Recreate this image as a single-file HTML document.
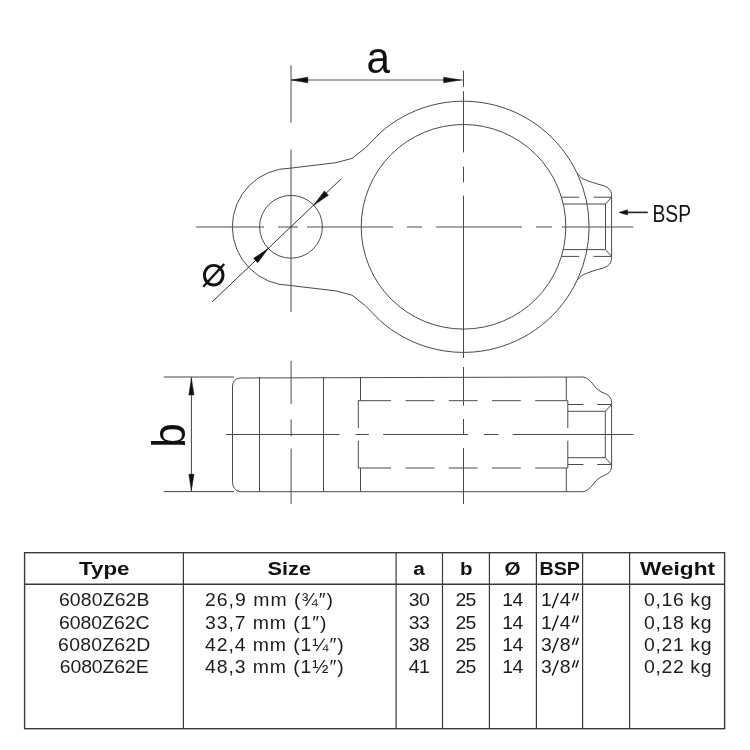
<!DOCTYPE html>
<html><head><meta charset="utf-8"><style>
html,body{margin:0;padding:0;background:#fff;width:750px;height:750px;overflow:hidden}
svg{display:block;filter:grayscale(1)}
</style></head><body>
<svg width="750" height="750" viewBox="0 0 750 750">
<rect width="750" height="750" fill="#fff"/>
<line x1="291" y1="65.3" x2="291" y2="122.8" stroke="#4a4a4a" stroke-width="1.0"/>
<line x1="291" y1="149.5" x2="291" y2="312" stroke="#4a4a4a" stroke-width="1.0"/>
<line x1="463.5" y1="70.8" x2="463.5" y2="86.9" stroke="#4a4a4a" stroke-width="1.0"/>
<line x1="463.5" y1="91.2" x2="463.5" y2="152.4" stroke="#4a4a4a" stroke-width="1.0"/>
<line x1="463.5" y1="166.8" x2="463.5" y2="182.4" stroke="#4a4a4a" stroke-width="1.0"/>
<line x1="463.5" y1="195.6" x2="463.5" y2="358" stroke="#4a4a4a" stroke-width="1.0"/>
<line x1="463.5" y1="367" x2="463.5" y2="405.6" stroke="#4a4a4a" stroke-width="1.0"/>
<line x1="463.5" y1="419" x2="463.5" y2="434.4" stroke="#4a4a4a" stroke-width="1.0"/>
<line x1="463.5" y1="448" x2="463.5" y2="504" stroke="#4a4a4a" stroke-width="1.0"/>
<line x1="196" y1="227.0" x2="264" y2="227.0" stroke="#4a4a4a" stroke-width="1.0"/>
<line x1="278" y1="227.0" x2="298" y2="227.0" stroke="#4a4a4a" stroke-width="1.0"/>
<line x1="307" y1="227.0" x2="393" y2="227.0" stroke="#4a4a4a" stroke-width="1.0"/>
<line x1="407" y1="227.0" x2="422" y2="227.0" stroke="#4a4a4a" stroke-width="1.0"/>
<line x1="436" y1="227.0" x2="522" y2="227.0" stroke="#4a4a4a" stroke-width="1.0"/>
<line x1="536" y1="227.0" x2="552" y2="227.0" stroke="#4a4a4a" stroke-width="1.0"/>
<line x1="562" y1="227.0" x2="633.3" y2="227.0" stroke="#4a4a4a" stroke-width="1.0"/>
<line x1="291" y1="80" x2="463" y2="80" stroke="#555" stroke-width="1.0"/>
<polygon points="291.30,80.00 307.80,82.80 307.80,77.20" fill="#111" stroke="#111" stroke-width="0.5" stroke-linejoin="round"/>
<polygon points="460.60,80.00 443.60,77.20 443.60,82.80" fill="#111" stroke="#111" stroke-width="0.5" stroke-linejoin="round"/>
<circle cx="463.5" cy="226.8" r="102.3" fill="none" stroke="#4a4a4a" stroke-width="1.0"/>
<circle cx="291.0" cy="226.8" r="31.4" fill="none" stroke="#4a4a4a" stroke-width="1.0"/>
<path d="M 291 285.50 A 58.7 58.7 0 0 1 291 168.10 L 336 162.70 L 352 158.40 L 365.3 148.00 L 380 132.98 A 125.6 125.6 0 0 1 577.2 173.44 C 579 175 580 177 583 178.8 C 588 181.3 596 183.5 603.2 185.6 C 607 186.8 609.5 188.5 610.8 191.5 C 611.6 193.5 611.6 195.5 611.6 197.2 L 611.6 256.40 C 611.6 258.10 611.6 260.10 610.8 262.10 C 609.5 265.10 607 266.80 603.2 268.00 C 596 270.10 588 272.30 583 274.80 C 580 276.60 579 278.60 577.2 280.16 A 125.6 125.6 0 0 1 380 320.62 L 365.3 305.60 L 352 295.20 L 336 290.90 L 291 285.60 " fill="none" stroke="#4a4a4a" stroke-width="1.0" stroke-linejoin="round"/>
<path d="M 577.2 173.44 A 125.6 125.6 0 0 1 577.2 280.16" fill="none" stroke="#4a4a4a" stroke-width="1.0" stroke-linejoin="round"/>
<line x1="561.3" y1="197.2" x2="579.2" y2="197.2" stroke="#4a4a4a" stroke-width="1.0"/>
<line x1="593.6" y1="197.2" x2="611.6" y2="197.2" stroke="#4a4a4a" stroke-width="1.0"/>
<line x1="561.3" y1="256.4" x2="579.2" y2="256.4" stroke="#4a4a4a" stroke-width="1.0"/>
<line x1="593.6" y1="256.4" x2="611.6" y2="256.4" stroke="#4a4a4a" stroke-width="1.0"/>
<path d="M 563 204 L 605.5 204 L 611.6 197.2 M 605.5 204 L 605.5 249.6 L 611.6 256.4 M 563 249.6 L 605.5 249.6" fill="none" stroke="#4a4a4a" stroke-width="1.0" stroke-linejoin="round"/>
<line x1="212" y1="302" x2="341.2" y2="178.8" stroke="#333" stroke-width="1.0"/>
<polygon points="313.72,205.13 328.46,195.23 324.32,190.88" fill="#111" stroke="#111" stroke-width="0.5" stroke-linejoin="round"/>
<polygon points="268.28,248.47 253.54,258.37 257.68,262.72" fill="#111" stroke="#111" stroke-width="0.5" stroke-linejoin="round"/>
<ellipse cx="213.7" cy="275.2" rx="9.3" ry="9.8" fill="none" stroke="#111" stroke-width="2.9"/>
<line x1="203.2" y1="286.8" x2="224.2" y2="264" stroke="#111" stroke-width="2.3"/>
<text x="366.5" y="73" font-family="&quot;Liberation Sans&quot;, sans-serif" font-size="45" font-weight="normal" text-anchor="start" textLength="23.5" lengthAdjust="spacingAndGlyphs" fill="#111">a</text>
<line x1="626" y1="212.4" x2="647.8" y2="212.4" stroke="#222" stroke-width="1.6"/>
<polygon points="619.00,212.40 627.50,215.00 627.50,209.80" fill="#111" stroke="#111" stroke-width="0.5" stroke-linejoin="round"/>
<text x="652.5" y="221.5" font-family="&quot;Liberation Sans&quot;, sans-serif" font-size="23" font-weight="normal" text-anchor="start" textLength="38.5" lengthAdjust="spacingAndGlyphs" fill="#111">BSP</text>
<line x1="163.8" y1="377.0" x2="234" y2="377.0" stroke="#444" stroke-width="1.0"/>
<line x1="163.8" y1="491.6" x2="234" y2="491.6" stroke="#444" stroke-width="1.0"/>
<line x1="191.4" y1="377.0" x2="191.4" y2="491.7" stroke="#444" stroke-width="1.0"/>
<polygon points="191.40,378.40 188.80,394.90 194.00,394.90" fill="#111" stroke="#111" stroke-width="0.5" stroke-linejoin="round"/>
<polygon points="191.40,490.30 194.00,474.30 188.80,474.30" fill="#111" stroke="#111" stroke-width="0.5" stroke-linejoin="round"/>
<g transform="translate(184.5,435.5) rotate(-90)"><text x="0" y="0" font-family="&quot;Liberation Sans&quot;, sans-serif" font-size="46" text-anchor="middle" fill="#111" textLength="24.5" lengthAdjust="spacingAndGlyphs">b</text></g>
<path d="M 583.7 377.0 C 587 378.0 590 380.5 592.5 383.5 C 595 387.0 597 389.5 601 391.8 C 605 393.5 609 395.0 610.5 398.0 C 611.6 400.0 611.6 402.0 611.6 404.5 L 611.6 464.2 C 611.6 466.7 611.6 468.7 610.5 470.7 C 609 473.7 605 475.2 601 476.9 C 597 479.2 595 481.7 592.5 485.2 C 590 488.2 587 490.7 583.7 491.7 L 240.1 491.7 Q 232.5 490.2 232.5 481.7 L 232.5 387.0 Q 232.5 378.5 240.1 378.0 Z" fill="none" stroke="#4a4a4a" stroke-width="1.0" stroke-linejoin="round"/>
<line x1="259.5" y1="377.0" x2="259.5" y2="491.7" stroke="#4a4a4a" stroke-width="1.0"/>
<line x1="323.5" y1="377.0" x2="323.5" y2="491.7" stroke="#4a4a4a" stroke-width="1.0"/>
<line x1="360.5" y1="377.0" x2="360.5" y2="400.7" stroke="#4a4a4a" stroke-width="1.0"/>
<line x1="360.5" y1="468" x2="360.5" y2="491.7" stroke="#4a4a4a" stroke-width="1.0"/>
<line x1="566.3" y1="377.0" x2="566.3" y2="400.7" stroke="#4a4a4a" stroke-width="1.0"/>
<line x1="566.3" y1="468" x2="566.3" y2="491.7" stroke="#4a4a4a" stroke-width="1.0"/>
<line x1="358" y1="400.7" x2="391" y2="400.7" stroke="#4a4a4a" stroke-width="1.0"/>
<line x1="405.6" y1="400.7" x2="434.4" y2="400.7" stroke="#4a4a4a" stroke-width="1.0"/>
<line x1="448.8" y1="400.7" x2="477.6" y2="400.7" stroke="#4a4a4a" stroke-width="1.0"/>
<line x1="492" y1="400.7" x2="520.8" y2="400.7" stroke="#4a4a4a" stroke-width="1.0"/>
<line x1="535.2" y1="400.7" x2="567.8" y2="400.7" stroke="#4a4a4a" stroke-width="1.0"/>
<line x1="358" y1="468.0" x2="391" y2="468.0" stroke="#4a4a4a" stroke-width="1.0"/>
<line x1="405.6" y1="468.0" x2="434.4" y2="468.0" stroke="#4a4a4a" stroke-width="1.0"/>
<line x1="448.8" y1="468.0" x2="477.6" y2="468.0" stroke="#4a4a4a" stroke-width="1.0"/>
<line x1="492" y1="468.0" x2="520.8" y2="468.0" stroke="#4a4a4a" stroke-width="1.0"/>
<line x1="535.2" y1="468.0" x2="567.8" y2="468.0" stroke="#4a4a4a" stroke-width="1.0"/>
<line x1="358.3" y1="400.7" x2="358.3" y2="428" stroke="#4a4a4a" stroke-width="1.0"/>
<line x1="358.3" y1="440.8" x2="358.3" y2="468" stroke="#4a4a4a" stroke-width="1.0"/>
<line x1="567.8" y1="400.7" x2="567.8" y2="428" stroke="#4a4a4a" stroke-width="1.0"/>
<line x1="567.8" y1="440.8" x2="567.8" y2="468" stroke="#4a4a4a" stroke-width="1.0"/>
<line x1="568" y1="404.5" x2="583.4" y2="404.5" stroke="#4a4a4a" stroke-width="1.0"/>
<line x1="597.2" y1="404.5" x2="611.6" y2="404.5" stroke="#4a4a4a" stroke-width="1.0"/>
<line x1="568" y1="464.5" x2="583.4" y2="464.5" stroke="#4a4a4a" stroke-width="1.0"/>
<line x1="597.2" y1="464.5" x2="611.6" y2="464.5" stroke="#4a4a4a" stroke-width="1.0"/>
<path d="M 568 411.3 L 605.3 411.3 L 611.6 404.5 M 605.3 411.3 L 605.3 457.7 L 611.6 464.5 M 568 457.7 L 605.3 457.7" fill="none" stroke="#4a4a4a" stroke-width="1.0" stroke-linejoin="round"/>
<line x1="226" y1="434.5" x2="339.6" y2="434.5" stroke="#4a4a4a" stroke-width="1.0"/>
<line x1="355.5" y1="434.5" x2="368.8" y2="434.5" stroke="#4a4a4a" stroke-width="1.0"/>
<line x1="383.2" y1="434.5" x2="468" y2="434.5" stroke="#4a4a4a" stroke-width="1.0"/>
<line x1="484" y1="434.5" x2="498.4" y2="434.5" stroke="#4a4a4a" stroke-width="1.0"/>
<line x1="512.8" y1="434.5" x2="633.3" y2="434.5" stroke="#4a4a4a" stroke-width="1.0"/>
<line x1="291.1" y1="361" x2="291.1" y2="404" stroke="#4a4a4a" stroke-width="1.0"/>
<line x1="291.1" y1="419.4" x2="291.1" y2="436.3" stroke="#4a4a4a" stroke-width="1.0"/>
<line x1="291.1" y1="448.6" x2="291.1" y2="503.8" stroke="#4a4a4a" stroke-width="1.0"/>
<rect x="24.6" y="552.7" width="700" height="176" fill="none" stroke="#3a3a3a" stroke-width="1.4"/>
<line x1="24.6" y1="584.2" x2="724.6" y2="584.2" stroke="#3a3a3a" stroke-width="1.4"/>
<line x1="183.4" y1="552.7" x2="183.4" y2="728.7" stroke="#3a3a3a" stroke-width="1.2"/>
<line x1="396.1" y1="552.7" x2="396.1" y2="728.7" stroke="#3a3a3a" stroke-width="1.2"/>
<line x1="442.5" y1="552.7" x2="442.5" y2="728.7" stroke="#3a3a3a" stroke-width="1.2"/>
<line x1="489.4" y1="552.7" x2="489.4" y2="728.7" stroke="#3a3a3a" stroke-width="1.2"/>
<line x1="536.4" y1="552.7" x2="536.4" y2="728.7" stroke="#3a3a3a" stroke-width="1.2"/>
<line x1="582.6" y1="552.7" x2="582.6" y2="728.7" stroke="#3a3a3a" stroke-width="1.2"/>
<line x1="629.6" y1="552.7" x2="629.6" y2="728.7" stroke="#3a3a3a" stroke-width="1.2"/>
<text x="79" y="574.5" font-family="&quot;Liberation Sans&quot;, sans-serif" font-size="18.8" font-weight="bold" text-anchor="start" textLength="50.5" lengthAdjust="spacingAndGlyphs" fill="#111">Type</text>
<text x="267.5" y="574.5" font-family="&quot;Liberation Sans&quot;, sans-serif" font-size="18.8" font-weight="bold" text-anchor="start" textLength="43.5" lengthAdjust="spacingAndGlyphs" fill="#111">Size</text>
<text x="413.2" y="574.5" font-family="&quot;Liberation Sans&quot;, sans-serif" font-size="18.8" font-weight="bold" text-anchor="start" textLength="11.5" lengthAdjust="spacingAndGlyphs" fill="#111">a</text>
<text x="460" y="574.5" font-family="&quot;Liberation Sans&quot;, sans-serif" font-size="18.8" font-weight="bold" text-anchor="start" textLength="12.5" lengthAdjust="spacingAndGlyphs" fill="#111">b</text>
<text x="504.5" y="574.5" font-family="&quot;Liberation Sans&quot;, sans-serif" font-size="18.8" font-weight="bold" text-anchor="start" textLength="16" lengthAdjust="spacingAndGlyphs" fill="#111">Ø</text>
<text x="539.5" y="574.5" font-family="&quot;Liberation Sans&quot;, sans-serif" font-size="18.8" font-weight="bold" text-anchor="start" textLength="40.5" lengthAdjust="spacingAndGlyphs" fill="#111">BSP</text>
<text x="640" y="574.5" font-family="&quot;Liberation Sans&quot;, sans-serif" font-size="18.8" font-weight="bold" text-anchor="start" textLength="75" lengthAdjust="spacingAndGlyphs" fill="#111">Weight</text>
<text transform="translate(104.2,606.1) scale(1.08,1)" x="0" y="0" font-family="&quot;Liberation Sans&quot;, sans-serif" font-size="18" font-weight="normal" text-anchor="middle" textLength="83.89" lengthAdjust="spacing" fill="#1c1c1c">6080Z62B</text>
<text transform="translate(205,606.1) scale(1.08,1)" x="0" y="0" font-family="&quot;Liberation Sans&quot;, sans-serif" font-size="18" font-weight="normal" text-anchor="start" textLength="118.52" lengthAdjust="spacing" fill="#1c1c1c">26,9 mm (¾″)</text>
<text transform="translate(419.3,606.1) scale(1.08,1)" x="0" y="0" font-family="&quot;Liberation Sans&quot;, sans-serif" font-size="18" font-weight="normal" text-anchor="middle" textLength="19.44" lengthAdjust="spacing" fill="#1c1c1c">30</text>
<text transform="translate(465.9,606.1) scale(1.08,1)" x="0" y="0" font-family="&quot;Liberation Sans&quot;, sans-serif" font-size="18" font-weight="normal" text-anchor="middle" textLength="19.44" lengthAdjust="spacing" fill="#1c1c1c">25</text>
<text transform="translate(512.8,606.1) scale(1.08,1)" x="0" y="0" font-family="&quot;Liberation Sans&quot;, sans-serif" font-size="18" font-weight="normal" text-anchor="middle" textLength="19.44" lengthAdjust="spacing" fill="#1c1c1c">14</text>
<text transform="translate(546.3,606.1) scale(1.08,1)" x="0" y="0" font-family="&quot;Liberation Sans&quot;, sans-serif" font-size="18" font-weight="normal" text-anchor="middle" fill="#1c1c1c">1</text>
<text transform="translate(565.1,606.1) scale(1.08,1)" x="0" y="0" font-family="&quot;Liberation Sans&quot;, sans-serif" font-size="18" font-weight="normal" text-anchor="middle" fill="#1c1c1c">4</text>
<line x1="552.3" y1="608.3" x2="558.3" y2="593.1" stroke="#111" stroke-width="1.45"/>
<line x1="572.4" y1="600.4" x2="574.9" y2="593.1" stroke="#111" stroke-width="1.4"/>
<line x1="575.9" y1="600.4" x2="578.4" y2="593.1" stroke="#111" stroke-width="1.4"/>
<text transform="translate(644,606.1) scale(1.08,1)" x="0" y="0" font-family="&quot;Liberation Sans&quot;, sans-serif" font-size="18" font-weight="normal" text-anchor="start" textLength="62.50" lengthAdjust="spacing" fill="#1c1c1c">0,16 kg</text>
<text transform="translate(104.2,628.5) scale(1.08,1)" x="0" y="0" font-family="&quot;Liberation Sans&quot;, sans-serif" font-size="18" font-weight="normal" text-anchor="middle" textLength="83.89" lengthAdjust="spacing" fill="#1c1c1c">6080Z62C</text>
<text transform="translate(205,628.5) scale(1.08,1)" x="0" y="0" font-family="&quot;Liberation Sans&quot;, sans-serif" font-size="18" font-weight="normal" text-anchor="start" textLength="112.50" lengthAdjust="spacing" fill="#1c1c1c">33,7 mm (1″)</text>
<text transform="translate(419.3,628.5) scale(1.08,1)" x="0" y="0" font-family="&quot;Liberation Sans&quot;, sans-serif" font-size="18" font-weight="normal" text-anchor="middle" textLength="19.44" lengthAdjust="spacing" fill="#1c1c1c">33</text>
<text transform="translate(465.9,628.5) scale(1.08,1)" x="0" y="0" font-family="&quot;Liberation Sans&quot;, sans-serif" font-size="18" font-weight="normal" text-anchor="middle" textLength="19.44" lengthAdjust="spacing" fill="#1c1c1c">25</text>
<text transform="translate(512.8,628.5) scale(1.08,1)" x="0" y="0" font-family="&quot;Liberation Sans&quot;, sans-serif" font-size="18" font-weight="normal" text-anchor="middle" textLength="19.44" lengthAdjust="spacing" fill="#1c1c1c">14</text>
<text transform="translate(546.3,628.5) scale(1.08,1)" x="0" y="0" font-family="&quot;Liberation Sans&quot;, sans-serif" font-size="18" font-weight="normal" text-anchor="middle" fill="#1c1c1c">1</text>
<text transform="translate(565.1,628.5) scale(1.08,1)" x="0" y="0" font-family="&quot;Liberation Sans&quot;, sans-serif" font-size="18" font-weight="normal" text-anchor="middle" fill="#1c1c1c">4</text>
<line x1="552.3" y1="630.7" x2="558.3" y2="615.5" stroke="#111" stroke-width="1.45"/>
<line x1="572.4" y1="622.8" x2="574.9" y2="615.5" stroke="#111" stroke-width="1.4"/>
<line x1="575.9" y1="622.8" x2="578.4" y2="615.5" stroke="#111" stroke-width="1.4"/>
<text transform="translate(644,628.5) scale(1.08,1)" x="0" y="0" font-family="&quot;Liberation Sans&quot;, sans-serif" font-size="18" font-weight="normal" text-anchor="start" textLength="62.50" lengthAdjust="spacing" fill="#1c1c1c">0,18 kg</text>
<text transform="translate(104.2,650.8) scale(1.08,1)" x="0" y="0" font-family="&quot;Liberation Sans&quot;, sans-serif" font-size="18" font-weight="normal" text-anchor="middle" textLength="85.37" lengthAdjust="spacing" fill="#1c1c1c">6080Z62D</text>
<text transform="translate(205,650.8) scale(1.08,1)" x="0" y="0" font-family="&quot;Liberation Sans&quot;, sans-serif" font-size="18" font-weight="normal" text-anchor="start" textLength="128.43" lengthAdjust="spacing" fill="#1c1c1c">42,4 mm (1¼″)</text>
<text transform="translate(419.3,650.8) scale(1.08,1)" x="0" y="0" font-family="&quot;Liberation Sans&quot;, sans-serif" font-size="18" font-weight="normal" text-anchor="middle" textLength="19.44" lengthAdjust="spacing" fill="#1c1c1c">38</text>
<text transform="translate(465.9,650.8) scale(1.08,1)" x="0" y="0" font-family="&quot;Liberation Sans&quot;, sans-serif" font-size="18" font-weight="normal" text-anchor="middle" textLength="19.44" lengthAdjust="spacing" fill="#1c1c1c">25</text>
<text transform="translate(512.8,650.8) scale(1.08,1)" x="0" y="0" font-family="&quot;Liberation Sans&quot;, sans-serif" font-size="18" font-weight="normal" text-anchor="middle" textLength="19.44" lengthAdjust="spacing" fill="#1c1c1c">14</text>
<text transform="translate(546.3,650.8) scale(1.08,1)" x="0" y="0" font-family="&quot;Liberation Sans&quot;, sans-serif" font-size="18" font-weight="normal" text-anchor="middle" fill="#1c1c1c">3</text>
<text transform="translate(565.1,650.8) scale(1.08,1)" x="0" y="0" font-family="&quot;Liberation Sans&quot;, sans-serif" font-size="18" font-weight="normal" text-anchor="middle" fill="#1c1c1c">8</text>
<line x1="552.3" y1="653.0" x2="558.3" y2="637.8" stroke="#111" stroke-width="1.45"/>
<line x1="572.4" y1="645.1" x2="574.9" y2="637.8" stroke="#111" stroke-width="1.4"/>
<line x1="575.9" y1="645.1" x2="578.4" y2="637.8" stroke="#111" stroke-width="1.4"/>
<text transform="translate(644,650.8) scale(1.08,1)" x="0" y="0" font-family="&quot;Liberation Sans&quot;, sans-serif" font-size="18" font-weight="normal" text-anchor="start" textLength="62.50" lengthAdjust="spacing" fill="#1c1c1c">0,21 kg</text>
<text transform="translate(104.2,673.2) scale(1.08,1)" x="0" y="0" font-family="&quot;Liberation Sans&quot;, sans-serif" font-size="18" font-weight="normal" text-anchor="middle" textLength="82.41" lengthAdjust="spacing" fill="#1c1c1c">6080Z62E</text>
<text transform="translate(205,673.2) scale(1.08,1)" x="0" y="0" font-family="&quot;Liberation Sans&quot;, sans-serif" font-size="18" font-weight="normal" text-anchor="start" textLength="128.43" lengthAdjust="spacing" fill="#1c1c1c">48,3 mm (1½″)</text>
<text transform="translate(419.3,673.2) scale(1.08,1)" x="0" y="0" font-family="&quot;Liberation Sans&quot;, sans-serif" font-size="18" font-weight="normal" text-anchor="middle" textLength="19.44" lengthAdjust="spacing" fill="#1c1c1c">41</text>
<text transform="translate(465.9,673.2) scale(1.08,1)" x="0" y="0" font-family="&quot;Liberation Sans&quot;, sans-serif" font-size="18" font-weight="normal" text-anchor="middle" textLength="19.44" lengthAdjust="spacing" fill="#1c1c1c">25</text>
<text transform="translate(512.8,673.2) scale(1.08,1)" x="0" y="0" font-family="&quot;Liberation Sans&quot;, sans-serif" font-size="18" font-weight="normal" text-anchor="middle" textLength="19.44" lengthAdjust="spacing" fill="#1c1c1c">14</text>
<text transform="translate(546.3,673.2) scale(1.08,1)" x="0" y="0" font-family="&quot;Liberation Sans&quot;, sans-serif" font-size="18" font-weight="normal" text-anchor="middle" fill="#1c1c1c">3</text>
<text transform="translate(565.1,673.2) scale(1.08,1)" x="0" y="0" font-family="&quot;Liberation Sans&quot;, sans-serif" font-size="18" font-weight="normal" text-anchor="middle" fill="#1c1c1c">8</text>
<line x1="552.3" y1="675.4" x2="558.3" y2="660.2" stroke="#111" stroke-width="1.45"/>
<line x1="572.4" y1="667.5" x2="574.9" y2="660.2" stroke="#111" stroke-width="1.4"/>
<line x1="575.9" y1="667.5" x2="578.4" y2="660.2" stroke="#111" stroke-width="1.4"/>
<text transform="translate(644,673.2) scale(1.08,1)" x="0" y="0" font-family="&quot;Liberation Sans&quot;, sans-serif" font-size="18" font-weight="normal" text-anchor="start" textLength="62.50" lengthAdjust="spacing" fill="#1c1c1c">0,22 kg</text>
</svg>
</body></html>
